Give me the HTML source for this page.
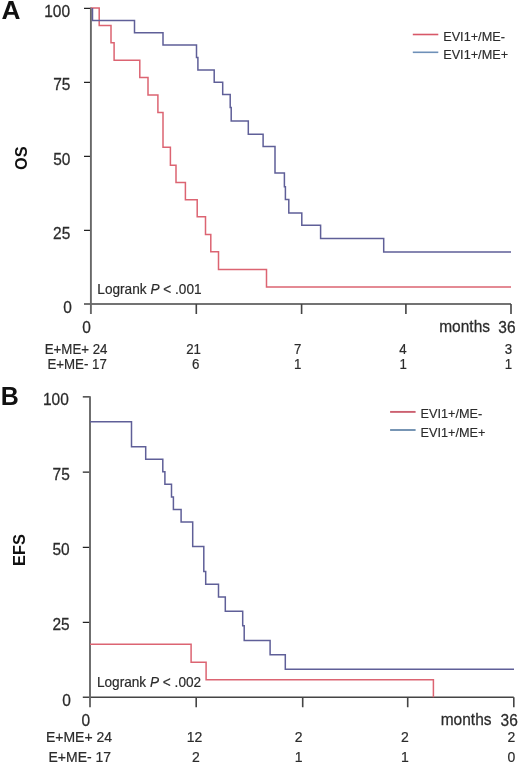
<!DOCTYPE html>
<html><head><meta charset="utf-8"><title>Kaplan-Meier OS / EFS</title>
<style>
html,body{margin:0;padding:0;background:#fff;}
body{width:520px;height:767px;overflow:hidden;}
svg{display:block;will-change:transform;}
text{font-family:"Liberation Sans",sans-serif;fill:#2b2b2b;}
.axv{stroke:#686868;stroke-width:1.9;fill:none;}
.axh{stroke:#444;stroke-width:1.5;fill:none;}
.tkh{stroke:#222;stroke-width:1.25;fill:none;}
.tkv{stroke:#444;stroke-width:1.6;fill:none;}
.red{stroke:#dc6472;stroke-width:1.5;fill:none;}
.blue{stroke:#5f5f98;stroke-width:1.5;fill:none;}
.tl{font-size:15.5px;stroke:#2b2b2b;stroke-width:0.25px;}
.rk{font-size:14px;stroke:#2b2b2b;stroke-width:0.2px;}
.lg{font-size:12.7px;stroke:#2b2b2b;stroke-width:0.15px;}
.lr{font-size:14px;stroke:#2b2b2b;stroke-width:0.2px;}
.pl{font-size:25px;font-weight:bold;fill:#111;}
.yl{font-size:16.3px;font-weight:bold;fill:#111;}
</style></head>
<body>
<svg width="520" height="767" viewBox="0 0 520 767">
<text class="pl" transform="translate(1.6,18.7) scale(1.05,1)">A</text>
<text class="yl" text-anchor="middle" transform="translate(27,158.2) rotate(-90)">OS</text>
<text class="tl" text-anchor="end" transform="translate(70,16.8) scale(1,1.05)">100</text>
<text class="tl" text-anchor="end" transform="translate(70.4,90.4) scale(1,1.05)">75</text>
<text class="tl" text-anchor="end" transform="translate(70.4,165) scale(1,1.05)">50</text>
<text class="tl" text-anchor="end" transform="translate(70.3,238.9) scale(1,1.05)">25</text>
<text class="tl" text-anchor="end" transform="translate(72,312.6) scale(1,1.05)">0</text>
<path class="axh" d="M84 304 H511"/>
<path class="tkh" d="M84 8.4 H90.9 M84 82.3 H90.9 M84 156.4 H90.9 M84 230.3 H90.9"/>
<path class="tkv" d="M196.3 304 V314.1 M301.6 304 V314.1 M405.9 304 V314.1 M511 304 V314.1"/>
<path class="axv" d="M90.9 7.4 V314.1"/>
<path class="red" d="M91 8 H99.2 V25.4 H111 V42.8 H114.1 V60.2 H139.8 V77.6 H148 V95 H157.9 V112.4 H163 V147.3 H170.4 V165.2 H176 V182.5 H185.4 V199.8 H197.2 V216.8 H205.5 V234.4 H210.8 V251.8 H218.5 V269.5 H266.5 V287 H511"/>
<path class="blue" d="M92.5 8 V20.5 H134.5 V32.8 H163 V45.1 H196.5 V57.6 H197.9 V69.9 H214.2 V82.3 H222.7 V94.4 H230.2 V107.5 H231.2 V121 H248.3 V134.3 H263.1 V146.5 H275 V173.1 H284.4 V186.7 H285.4 V199.5 H288.8 V213.1 H301.8 V225.2 H320.6 V238.5 H383.7 V251.9 H511"/>
<line x1="412.8" y1="34.5" x2="438.3" y2="34.5" stroke="#d85868" stroke-width="1.6"/>
<line x1="412.8" y1="52.3" x2="438.3" y2="52.3" stroke="#6e90b8" stroke-width="1.6"/>
<text class="lg" transform="translate(443.2,40.9)">EVI1+/ME-</text>
<text class="lg" transform="translate(443.2,59)">EVI1+/ME+</text>
<text class="lr" transform="translate(97.3,293.6) scale(0.975,1.0)">Logrank <tspan font-style="italic">P</tspan> &lt; .001</text>
<text class="tl" text-anchor="middle" transform="translate(86.5,332.8) scale(1,1.05)">0</text>
<text class="tl" text-anchor="end" transform="translate(490,332.1) scale(1,1.05)">months</text>
<text class="tl" text-anchor="end" transform="translate(515.5,332.9) scale(1,1.05)">36</text>
<text class="rk" text-anchor="middle" transform="translate(76.1,353.8) scale(0.95,1.065)">E+ME+ 24</text>
<text class="rk" text-anchor="middle" transform="translate(77.1,368.6) scale(0.95,1.065)">E+ME- 17</text>
<text class="rk" text-anchor="middle" transform="translate(193.6,353.8) scale(0.95,1.065)">21</text>
<text class="rk" text-anchor="middle" transform="translate(195.6,368.6) scale(0.95,1.065)">6</text>
<text class="rk" text-anchor="middle" transform="translate(297.8,353.8) scale(0.95,1.065)">7</text>
<text class="rk" text-anchor="middle" transform="translate(297.7,368.6) scale(0.95,1.065)">1</text>
<text class="rk" text-anchor="middle" transform="translate(402.9,353.8) scale(0.95,1.065)">4</text>
<text class="rk" text-anchor="middle" transform="translate(403.1,368.6) scale(0.95,1.065)">1</text>
<text class="rk" text-anchor="middle" transform="translate(508.5,353.8) scale(0.95,1.065)">3</text>
<text class="rk" text-anchor="middle" transform="translate(508.5,368.6) scale(0.95,1.065)">1</text>
<text class="pl" transform="translate(0.7,405.4) scale(1.0,1.035)">B</text>
<text class="yl" text-anchor="middle" transform="translate(24.9,550.1) rotate(-90)">EFS</text>
<text class="tl" text-anchor="end" transform="translate(68.8,405) scale(1,1.05)">100</text>
<text class="tl" text-anchor="end" transform="translate(69.8,479.8) scale(1,1.05)">75</text>
<text class="tl" text-anchor="end" transform="translate(69.7,555.3) scale(1,1.05)">50</text>
<text class="tl" text-anchor="end" transform="translate(69.7,630.4) scale(1,1.05)">25</text>
<text class="tl" text-anchor="end" transform="translate(71,706.2) scale(1,1.05)">0</text>
<path class="axh" d="M82.8 697.3 H513.8"/>
<path class="tkh" d="M82.8 396.9 H90.0 M82.8 472.2 H90.0 M82.8 547.4 H90.0 M82.8 622.3 H90.0"/>
<path class="tkv" d="M196.2 697.3 V707.2 M302.7 697.3 V707.2 M407.7 697.3 V707.2 M513.8 697.3 V707.2"/>
<path class="axv" d="M90.0 396.2 V707.2"/>
<path class="red" d="M90 644.2 H191.1 V662.3 H206.1 V679.8 H433.4 V697.3"/>
<path class="blue" d="M90 421.8 H131.5 V446.7 H145.7 V459.2 H162.8 V471.8 H164.9 V484.3 H171.5 V496.9 H173.4 V509.5 H181.1 V521.9 H192.7 V546.6 H203.8 V571.5 H205.7 V584.2 H218.5 V596.9 H225.3 V611.2 H242.7 V625.8 H244.2 V640.4 H270.1 V654.7 H285.3 V669.2 H514"/>
<line x1="390.1" y1="411.9" x2="415.6" y2="411.9" stroke="#cc6070" stroke-width="1.9"/>
<line x1="390.1" y1="430" x2="415.6" y2="430" stroke="#7090b0" stroke-width="1.9"/>
<text class="lg" transform="translate(420.6,418)">EVI1+/ME-</text>
<text class="lg" transform="translate(420.6,436.8)">EVI1+/ME+</text>
<text class="lr" transform="translate(96.9,686.5) scale(0.975,1.0)">Logrank <tspan font-style="italic">P</tspan> &lt; .002</text>
<text class="tl" text-anchor="middle" transform="translate(85.8,725.6) scale(1,1.05)">0</text>
<text class="tl" text-anchor="end" transform="translate(491.5,725.1) scale(1,1.05)">months</text>
<text class="tl" text-anchor="end" transform="translate(517.8,726.3) scale(1,1.05)">36</text>
<text class="rk" text-anchor="middle" transform="translate(79,742.3) scale(1.0,1.065)">E+ME+ 24</text>
<text class="rk" text-anchor="middle" transform="translate(79.8,761.9) scale(1.0,1.065)">E+ME- 17</text>
<text class="rk" text-anchor="middle" transform="translate(194.5,742.3) scale(1.0,1.065)">12</text>
<text class="rk" text-anchor="middle" transform="translate(196,761.9) scale(1.0,1.065)">2</text>
<text class="rk" text-anchor="middle" transform="translate(298.6,742.3) scale(1.0,1.065)">2</text>
<text class="rk" text-anchor="middle" transform="translate(298.7,761.9) scale(1.0,1.065)">1</text>
<text class="rk" text-anchor="middle" transform="translate(404.9,742.3) scale(1.0,1.065)">2</text>
<text class="rk" text-anchor="middle" transform="translate(404.9,761.9) scale(1.0,1.065)">1</text>
<text class="rk" text-anchor="middle" transform="translate(511.3,742.3) scale(1.0,1.065)">2</text>
<text class="rk" text-anchor="middle" transform="translate(511.4,761.9) scale(1.0,1.065)">0</text>
</svg>
</body></html>
